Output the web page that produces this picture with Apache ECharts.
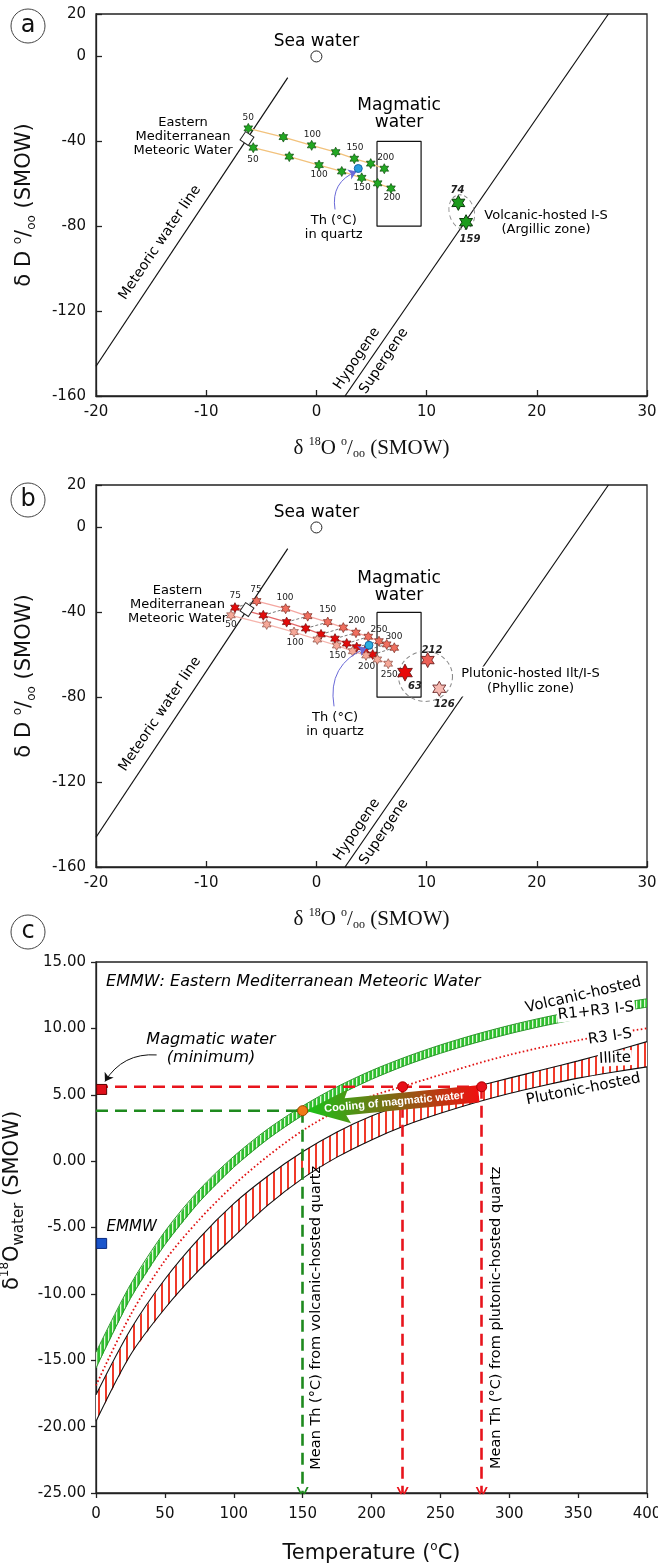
<!DOCTYPE html>
<html>
<head>
<meta charset="utf-8">
<title>Isotope diagrams a-c</title>
<script src="https://cdn.jsdelivr.net/npm/echarts@6.0.0/dist/echarts.min.js"></script>
<style>
  html, body { margin: 0; padding: 0; background: #fff; }
  #chart { width: 658px; height: 1568px; }
</style>
</head>
<body>
<div id="chart"></div>
<script>
// ---- reference lines shared by a and b (d18O, dD) ----
var mwlLine = [[-20, -146], [-2.6, -10]]
var hypoSuperLine = [[2.6, -160], [26.5, 20]]
var seaWater = [[0, 0]]
var emmwPoint = [[-6.3, -38.7]]
var magmaticBox = [[5.5, -40], [9.5, -40], [9.5, -80], [5.5, -80], [5.5, -40]]

// ---- panel a: volcanic-hosted ----
var aRowUpper = [[-6.18, -33.9], [-3.0, -38.0], [-0.43, -41.9], [1.75, -45.1], [3.44, -48.2], [4.93, -50.5], [6.16, -52.9]]
var aRowLower = [[-5.73, -43.0], [-2.46, -47.2], [0.24, -51.2], [2.30, -54.2], [4.11, -57.2], [5.56, -59.8], [6.77, -62.2]]
var aQuartz = [[3.8, -52.8]]
var aVolcanic = [[12.88, -69.0], [13.58, -78.1]]
var aTempLabels = [[-6.18, -28.8, '50'], [-0.37, -36.7, '100'], [3.5, -43.0, '150'], [6.29, -47.7, '200'],
  [-5.75, -48.5, '50'], [0.24, -55.6, '100'], [4.14, -61.7, '150'], [6.86, -66.4, '200']]
var aStarLabels = [[12.80, -63.2, '74'], [13.94, -86.0, '159']]

// ---- panel b: plutonic-hosted ----
var bRowA = [[-5.42, -34.7], [-2.79, -38.3], [-0.79, -41.8], [1.03, -44.6], [2.44, -47.2], [3.59, -49.6], [4.71, -51.5], [5.68, -53.6], [6.38, -55.1], [7.07, -56.7]]
var bRowB = [[-7.39, -37.8], [-4.82, -41.4], [-2.70, -44.6], [-0.97, -47.6], [0.42, -50.4], [1.69, -52.4], [2.75, -54.7], [3.66, -56.4], [4.41, -58.0], [5.11, -59.9]]
var bRowC = [[-7.75, -41.4], [-4.51, -45.7], [-2.03, -49.3], [0.08, -52.8], [1.84, -55.6], [3.29, -58.3], [4.50, -60.3], [5.53, -62.2], [6.52, -64.2]]
var bQuartz = [[4.77, -55.5]]
var bPlutonic = [[8.04, -68.4], [10.10, -62.5], [11.15, -76.0]]
var bTempLabels = [[-5.48, -29.5, '75'], [-2.85, -33.1, '100'], [1.03, -38.9, '150'], [3.66, -44.1, '200'], [5.68, -48.0, '250'], [7.04, -51.5, '300'],
  [-7.36, -32.3, '75'], [-7.75, -46.0, '50'], [-1.94, -54.3, '100'], [1.93, -60.3, '150'], [4.56, -65.4, '200'], [6.61, -69.3, '250']]
var bStarLabels = [[8.95, -74.7, '63'], [10.49, -57.8, '212'], [11.61, -83.5, '126']]

// ---- panel c: temperature vs d18O water ----
var tempC = [0, 25, 50, 75, 100, 125, 150, 175, 200, 225, 250, 275, 300, 325, 350, 375, 400]
var volcUpper = [-14.4, -9.3, -5.3, -2.15, 0.36, 2.44, 4.15, 5.6, 6.82, 7.85, 8.75, 9.53, 10.22, 10.82, 11.34, 11.81, 12.23]
var volcLower = [-15.6, -10.35, -6.3, -3.07, -0.46, 1.68, 3.45, 4.92, 6.16, 7.22, 8.12, 8.9, 9.59, 10.19, 10.71, 11.18, 11.6]
var r3Curve = [-16.9, -11.6, -7.5, -4.4, -1.8, 0.4, 2.3, 3.8, 4.9, 5.7, 6.5, 7.3, 8.0, 8.6, 9.1, 9.6, 10.0]
var illiteUpper = [-17.6, -12.7, -8.9, -5.8, -3.2, -1.1, 0.7, 2.2, 3.4, 4.3, 5.0, 5.6, 6.25, 6.9, 7.55, 8.25, 9.0]
var illiteLower = [-19.6, -14.6, -11.1, -8.2, -5.7, -3.3, -1.3, 0.3, 1.6, 2.7, 3.6, 4.4, 5.1, 5.7, 6.25, 6.7, 7.1]
var magmaticMin = [[0, 5.6], [280, 5.6]]
var volcWater = [[0, 3.8], [150, 3.8]]
var thVolcanic = [150, 3.8]
var thPlutonic = [[222.6, 5.6], [280, 5.6]]
var magmaticSquare = [[4.1, 5.4]]
var emmwSquare = [[4.1, -6.2]]
var coolingFrom = [280, 5.6]
var coolingTo = [150, 3.8]

var STAR = 'path://M0,-10L2.75,-4.76L8.66,-5L5.5,0L8.66,5L2.75,4.76L0,10L-2.75,4.76L-8.66,5L-5.5,0L-8.66,-5L-2.75,-4.76Z'
var CHEVRON = 'path://M5,0L10,11L8.4,11L5,3.6L1.6,11L0,11Z'
var FONT = 'DejaVu Sans'

function zip (xs, ys) {
  return xs.map(function (x, i) { return [x, ys[i]] })
}

function stripes (w, h, bg, fg, sw) {
  var c = document.createElement('canvas')
  c.width = w
  c.height = h
  var ctx = c.getContext('2d')
  ctx.fillStyle = bg
  ctx.fillRect(0, 0, w, h)
  ctx.fillStyle = fg
  ctx.fillRect(0, 0, sw, h)
  return { image: c, repeat: 'repeat' }
}

function plainLine (gi, data, color, width, type, z) {
  return {
    type: 'line', xAxisIndex: gi, yAxisIndex: gi, data: data, symbol: 'none', silent: true, z: z || 2,
    lineStyle: { color: color, width: width, type: type || 'solid' }
  }
}

function starRow (gi, data, lineColor, fill, border, size) {
  return {
    type: 'line', xAxisIndex: gi, yAxisIndex: gi, data: data, silent: true, z: 4,
    symbol: STAR, symbolSize: size || 10, symbolKeepAspect: true, showAllSymbol: true,
    lineStyle: { color: lineColor, width: 1.3 },
    itemStyle: { color: fill, borderColor: border, borderWidth: 0.7 }
  }
}

function dots (gi, data, symbol, size, fill, border, z, rotate) {
  return {
    type: 'scatter', xAxisIndex: gi, yAxisIndex: gi, data: data, silent: true, z: z || 5,
    symbol: symbol, symbolSize: size, symbolKeepAspect: true, symbolRotate: rotate || 0,
    itemStyle: { color: fill, borderColor: border, borderWidth: 1, opacity: 1 }
  }
}

function notes (gi, list, style) {
  return {
    type: 'scatter', xAxisIndex: gi, yAxisIndex: gi, symbolSize: 1, silent: true, z: 12,
    itemStyle: { color: 'rgba(0,0,0,0)', opacity: 1 },
    data: list.map(function (d) { return { value: [d[0], d[1]], label: { formatter: d[2] } } }),
    label: Object.assign({ show: true, position: 'inside', color: '#000', opacity: 1, fontFamily: FONT, align: 'center', verticalAlign: 'middle' }, style)
  }
}

function arrowLine (gi, from, to, color, width, curveness, type, z, head) {
  return {
    type: 'lines', coordinateSystem: 'cartesian2d', xAxisIndex: gi, yAxisIndex: gi, silent: true, z: z || 6,
    symbol: ['none', head || 'arrow'], symbolSize: head ? [10, 12] : 8,
    data: [{ coords: [from, to] }],
    lineStyle: { color: color, width: width, curveness: curveness, type: type || 'solid', opacity: 1 }
  }
}

function ellipse (gi, center, rx, ry, rot) {
  return {
    type: 'custom', xAxisIndex: gi, yAxisIndex: gi, silent: true, z: 3, data: [center],
    renderItem: function (params, api) {
      var c = api.coord(center)
      return {
        type: 'circle', x: c[0], y: c[1], rotation: rot, scaleX: rx / ry,
        shape: { cx: 0, cy: 0, r: ry },
        style: { fill: 'none', stroke: '#8a8a8a', lineWidth: 1, lineDash: [4, 3], strokeNoScale: true }
      }
    }
  }
}

function band (gi, upper, lower, fill, z) {
  return {
    type: 'custom', xAxisIndex: gi, yAxisIndex: gi, silent: true, z: z, data: [upper[0]],
    renderItem: function (params, api) {
      var pts = upper.map(function (p) { return api.coord(p) })
      lower.slice().reverse().forEach(function (p) { pts.push(api.coord(p)) })
      return { type: 'polygon', shape: { points: pts }, style: { fill: fill, stroke: 'none' } }
    }
  }
}

function coolingArrow (gi) {
  return {
    type: 'custom', xAxisIndex: gi, yAxisIndex: gi, silent: true, z: 9, data: [coolingTo],
    renderItem: function (params, api) {
      var tip = api.coord(coolingTo)
      var tail = api.coord(coolingFrom)
      tip = [tip[0] + 3, tip[1]]
      tail = [tail[0] - 3, tail[1] + 7]
      var dx = tail[0] - tip[0]
      var dy = tail[1] - tip[1]
      var len = Math.sqrt(dx * dx + dy * dy)
      var ux = dx / len
      var uy = dy / len
      var nx = -uy
      var ny = ux
      var hl = 44
      var hw = 17
      var bw = 8.5
      function p (a, b) { return [tip[0] + ux * a + nx * b, tip[1] + uy * a + ny * b] }
      var pts = [tip, p(hl, hw), p(hl - 4, bw), p(len, bw), p(len, -bw), p(hl - 4, -bw), p(hl, -hw)]
      return {
        type: 'group',
        children: [{
          type: 'polygon', shape: { points: pts },
          style: {
            fill: {
              type: 'linear', x: tip[0], y: tip[1], x2: tail[0], y2: tail[1], global: true,
              colorStops: [{ offset: 0, color: '#18c418' }, { offset: 0.5, color: '#7f6a14' }, { offset: 1, color: '#f01010' }]
            },
            stroke: 'none'
          }
        }, {
          type: 'text', x: (tip[0] + tail[0]) / 2 + 2, y: (tip[1] + tail[1]) / 2, rotation: -Math.atan2(dy, dx),
          style: { text: 'Cooling of magmatic water', fill: '#fff', font: 'bold 11px "Liberation Sans"', align: 'center', verticalAlign: 'middle' }
        }]
      }
    }
  }
}

// axes helpers
var axisLineStyle = { color: '#222', width: 1.3 }
function isoXAxis (gi) {
  return {
    gridIndex: gi, type: 'value', min: -20, max: 30, interval: 10,
    axisLine: { onZero: false, lineStyle: axisLineStyle },
    axisTick: { inside: true, length: 6, lineStyle: axisLineStyle },
    axisLabel: { color: '#111', fontSize: 15, margin: 9, fontFamily: FONT },
    splitLine: { show: false },
    name: 'δ {s|18}O {s|o}/{u|oo} (SMOW)', nameLocation: 'middle', nameGap: 40,
    nameTextStyle: {
      fontFamily: 'Liberation Serif', fontSize: 21, color: '#111', lineHeight: 24,
      rich: {
        s: { fontFamily: 'Liberation Serif', fontSize: 12, verticalAlign: 'top', lineHeight: 24, color: '#111' },
        u: { fontFamily: 'Liberation Serif', fontSize: 12, verticalAlign: 'bottom', lineHeight: 24, color: '#111' }
      }
    }
  }
}
function isoYAxis (gi) {
  return {
    gridIndex: gi, type: 'value', min: -160, max: 20, interval: 40,
    axisLine: { onZero: false, lineStyle: axisLineStyle },
    axisTick: { inside: true, length: 6, lineStyle: axisLineStyle },
    axisLabel: { color: '#111', fontSize: 15, margin: 10, fontFamily: FONT },
    splitLine: { show: false },
    name: 'δ D {s|o}/{u|oo} (SMOW)', nameLocation: 'middle', nameRotate: 90, nameGap: 58,
    nameTextStyle: {
      fontFamily: FONT, fontSize: 21, color: '#111', lineHeight: 26,
      rich: {
        s: { fontFamily: FONT, fontSize: 12, verticalAlign: 'top', lineHeight: 26, color: '#111' },
        u: { fontFamily: FONT, fontSize: 12, verticalAlign: 'bottom', lineHeight: 26, color: '#111' }
      }
    }
  }
}

var gridBase = { show: true, borderColor: '#222', borderWidth: 1.3, backgroundColor: 'transparent', containLabel: false, outerBoundsMode: 'none' }

var redStripes = stripes(7, 4, '#ffffff', '#f03a2a', 2)
var greenStripes = stripes(4, 4, '#2fbf2f', '#e4f8dc', 1.3)

var series = []

// ---- panel a ----
series.push(plainLine(0, mwlLine, '#111', 1.2))
series.push(plainLine(0, hypoSuperLine, '#111', 1.2))
series.push(plainLine(0, magmaticBox, '#111', 1.2))
series.push(starRow(0, aRowUpper, '#f2c27c', '#22a822', '#0c4a0c'))
series.push(starRow(0, aRowLower, '#f2c27c', '#22a822', '#0c4a0c'))
series.push(dots(0, seaWater, 'circle', 11, '#fff', '#222'))
series.push(dots(0, emmwPoint, 'rect', 10, '#fff', '#222', 6, 56))
series.push(dots(0, aQuartz, 'circle', 8, '#2a9de0', '#1565a8', 7))
series.push(dots(0, aVolcanic, STAR, 15, '#1c9c1c', '#0a3a0a', 6))
series.push(ellipse(0, [13.19, -73.3], 12.5, 17.5, 0.25))
series.push(arrowLine(0, [1.69, -72.1], [3.65, -54.2], '#6a6ad8', 1, 0.4))
series.push(notes(0, [[0, 6.9, 'Sea water'], [7.5, -27.3, 'Magmatic\nwater']], { fontSize: 17, lineHeight: 17 }))
series.push(notes(0, [[-12.1, -37.6, 'Eastern\nMediterranean\nMeteoric Water'], [1.57, -80.6, 'Th (°C)\nin quartz'],
  [20.84, -78.3, 'Volcanic-hosted I-S\n(Argillic zone)']], { fontSize: 13, lineHeight: 14 }))
series.push(notes(0, [[-14.19, -87.7, 'Meteoric water line'], [3.68, -142.4, 'Hypogene'], [6.13, -143.5, 'Supergene']], { fontSize: 14, rotate: 56 }))
series.push(notes(0, aTempLabels, { fontSize: 9, color: '#222' }))
series.push(notes(0, aStarLabels, { fontSize: 10, fontStyle: 'italic', fontWeight: 'bold', color: '#222' }))

// ---- panel b ----
series.push(plainLine(1, mwlLine, '#111', 1.2))
series.push(plainLine(1, hypoSuperLine, '#111', 1.2))
series.push(plainLine(1, magmaticBox, '#111', 1.2))
series.push({
  type: 'lines', coordinateSystem: 'cartesian2d', xAxisIndex: 1, yAxisIndex: 1, silent: true, z: 3,
  data: bRowB.map(function (p, i) { return { coords: [p, bRowA[i]] } }),
  lineStyle: { color: '#555', width: 0.8, type: [3, 2], opacity: 1 }
})
series.push(starRow(1, bRowA, '#f4a6a0', '#ef6f5f', '#7a2a20'))
series.push(starRow(1, bRowB, '#e36a6a', '#e30a0a', '#6a0a0a'))
series.push(starRow(1, bRowC, '#f5b4ac', '#f5a898', '#8a4a40'))
series.push(dots(1, seaWater, 'circle', 11, '#fff', '#222'))
series.push(dots(1, emmwPoint, 'rect', 10, '#fff', '#222', 6, 56))
series.push(dots(1, bQuartz, 'circle', 8, '#2ab0e0', '#1565a8', 7))
series.push({
  type: 'scatter', xAxisIndex: 1, yAxisIndex: 1, silent: true, z: 6, symbol: STAR, symbolKeepAspect: true,
  data: [
    { value: bPlutonic[0], symbolSize: 17, itemStyle: { color: '#e80808' } },
    { value: bPlutonic[1], symbolSize: 15, itemStyle: { color: '#ec5f55' } },
    { value: bPlutonic[2], symbolSize: 15, itemStyle: { color: '#f6bab2' } }
  ],
  itemStyle: { borderColor: '#5a1010', borderWidth: 0.8, opacity: 1 }
})
series.push(ellipse(1, [9.90, -70.2], 27, 25, 0))
series.push(arrowLine(1, [1.60, -84.3], [4.55, -56.8], '#6a6ad8', 1, 0.4))
series.push(notes(1, [[0, 6.9, 'Sea water'], [7.5, -28.3, 'Magmatic\nwater']], { fontSize: 17, lineHeight: 17 }))
series.push(notes(1, [[-12.6, -36.2, 'Eastern\nMediterranean\nMeteoric Water'], [1.69, -92.9, 'Th (°C)\nin quartz']], { fontSize: 13, lineHeight: 14 }))
series.push(notes(1, [[19.43, -72.6, 'Plutonic-hosted Ilt/I-S\n(Phyllic zone)']], { fontSize: 13, lineHeight: 15, backgroundColor: '#fff', padding: [0, 2] }))
series.push(notes(1, [[-14.19, -88.0, 'Meteoric water line'], [3.68, -142.4, 'Hypogene'], [6.13, -143.5, 'Supergene']], { fontSize: 14, rotate: 56 }))
series.push(notes(1, bTempLabels, { fontSize: 9, color: '#222' }))
series.push(notes(1, bStarLabels, { fontSize: 10, fontStyle: 'italic', fontWeight: 'bold', color: '#222' }))

// ---- panel c ----
var volcU = zip(tempC, volcUpper)
var volcL = zip(tempC, volcLower)
var illU = zip(tempC, illiteUpper)
var illL = zip(tempC, illiteLower)
series.push(band(2, illU, illL, redStripes, 1))
series.push(band(2, volcU, volcL, greenStripes, 1))
series.push(Object.assign(plainLine(2, illU, '#111', 1.1, 'solid', 3), { smooth: 0.3 }))
series.push(Object.assign(plainLine(2, illL, '#111', 1.1, 'solid', 3), { smooth: 0.3 }))
series.push(Object.assign(plainLine(2, volcU, '#2a962a', 1, 'solid', 3), { smooth: 0.3 }))
series.push(Object.assign(plainLine(2, volcL, '#2a962a', 1, 'solid', 3), { smooth: 0.3 }))
series.push(Object.assign(plainLine(2, zip(tempC, r3Curve), '#e01010', 1.8, [1.6, 2.4], 3), { smooth: 0.3 }))
series.push(plainLine(2, magmaticMin, '#e8141c', 2.6, [12, 7], 5))
series.push(plainLine(2, volcWater, '#1e8a1e', 2.6, [12, 7], 5))
series.push(arrowLine(2, thVolcanic, [thVolcanic[0], -25], '#1e8a1e', 2.6, 0, [12, 7], 5, CHEVRON))
series.push(arrowLine(2, thPlutonic[0], [thPlutonic[0][0], -25], '#e8141c', 2.6, 0, [12, 7], 5, CHEVRON))
series.push(arrowLine(2, thPlutonic[1], [thPlutonic[1][0], -25], '#e8141c', 2.6, 0, [12, 7], 5, CHEVRON))
series.push(coolingArrow(2))
series.push(dots(2, thPlutonic, 'circle', 10, '#e8101a', '#b00000', 10))
series.push(dots(2, [thVolcanic], 'circle', 10, '#f07a18', '#a04800', 10))
series.push(dots(2, magmaticSquare, 'rect', 10, '#e0101a', '#5a0000', 10))
series.push(dots(2, emmwSquare, 'rect', 10, '#1a55cc', '#0a2a80', 10))
series.push(arrowLine(2, [44, 8.0], [6.5, 6.0], '#111', 1, -0.3))
series.push(notes(2, [[7.3, 13.52, 'EMMW: Eastern Mediterranean Meteoric Water']], { fontSize: 16, fontStyle: 'italic', align: 'left' }))
series.push(notes(2, [[83.5, 8.45, 'Magmatic water\n(minimum)']], { fontSize: 16, fontStyle: 'italic', lineHeight: 18 }))
series.push(notes(2, [[25.9, -4.99, 'EMMW']], { fontSize: 15, fontStyle: 'italic' }))
series.push(notes(2, [[160, -11.8, 'Mean Th (°C) from volcanic-hosted quartz'], [290.7, -11.8, 'Mean Th (°C) from plutonic-hosted quartz']], { fontSize: 14.5, rotate: 90 }))
series.push(notes(2, [[353.8, 12.51, 'Volcanic-hosted']], { fontSize: 15, rotate: 13 }))
series.push(notes(2, [[363, 11.3, 'R1+R3 I-S']], { fontSize: 15, rotate: 6, backgroundColor: '#fff', padding: [0, 1] }))
series.push(notes(2, [[373.1, 9.37, 'R3 I-S']], { fontSize: 15, rotate: 8, backgroundColor: '#fff', padding: [0, 1] }))
series.push(notes(2, [[376.8, 7.74, 'Illite']], { fontSize: 15, rotate: 3, backgroundColor: '#fff', padding: [0, 1] }))
series.push(notes(2, [[353.8, 5.41, 'Plutonic-hosted']], { fontSize: 15, rotate: 11 }))

function panelLetter (cx, cy, t) {
  return [
    { type: 'circle', shape: { cx: cx, cy: cy, r: 17 }, style: { fill: '#fff', stroke: '#444', lineWidth: 1 } },
    { type: 'text', x: cx, y: cy, style: { text: t, font: '24px "DejaVu Sans"', fill: '#111', align: 'center', verticalAlign: 'middle' } }
  ]
}

var option = {
  animation: false,
  backgroundColor: '#fff',
  grid: [
    Object.assign({ left: 96, top: 14, width: 551, height: 382 }, gridBase),
    Object.assign({ left: 96, top: 485, width: 551, height: 382 }, gridBase),
    Object.assign({ left: 96, top: 962, width: 551, height: 531 }, gridBase)
  ],
  xAxis: [
    isoXAxis(0),
    isoXAxis(1),
    {
      gridIndex: 2, type: 'value', min: 0, max: 400, interval: 50,
      axisLine: { onZero: false, lineStyle: axisLineStyle },
      axisTick: { length: 5, lineStyle: axisLineStyle },
      axisLabel: { color: '#111', fontSize: 15, margin: 14, fontFamily: FONT },
      splitLine: { show: false },
      name: 'Temperature ({s|o}C)', nameLocation: 'middle', nameGap: 48,
      nameTextStyle: {
        fontFamily: FONT, fontSize: 21, color: '#111', lineHeight: 26,
        rich: { s: { fontFamily: FONT, fontSize: 12, verticalAlign: 'top', lineHeight: 26, color: '#111' } }
      }
    }
  ],
  yAxis: [
    isoYAxis(0),
    isoYAxis(1),
    {
      gridIndex: 2, type: 'value', min: -25, max: 15, interval: 5,
      axisLine: { onZero: false, lineStyle: axisLineStyle },
      axisTick: { length: 5, lineStyle: axisLineStyle },
      axisLabel: { color: '#111', fontSize: 15, margin: 10, fontFamily: FONT, formatter: function (v) { return v.toFixed(2) } },
      splitLine: { show: false },
      name: 'δ{s|18}O{u|water} (SMOW)', nameLocation: 'middle', nameRotate: 90, nameGap: 62,
      nameTextStyle: {
        fontFamily: FONT, fontSize: 21, color: '#111', lineHeight: 28, padding: [0, 0, 0, 54],
        rich: {
          s: { fontFamily: FONT, fontSize: 12, verticalAlign: 'top', lineHeight: 28, color: '#111' },
          u: { fontFamily: FONT, fontSize: 15, verticalAlign: 'bottom', lineHeight: 28, color: '#111' }
        }
      }
    }
  ],
  graphic: [].concat(panelLetter(28, 26, 'a'), panelLetter(28, 500, 'b'), panelLetter(28, 932, 'c')),
  series: series
}

var chart = echarts.init(document.getElementById('chart'))
chart.setOption(option)
</script>
</body>
</html>
